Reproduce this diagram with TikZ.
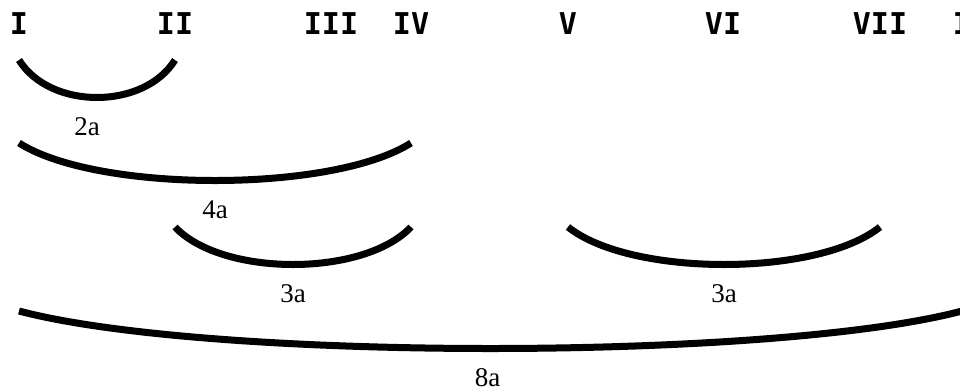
\documentclass[tikz,border=0pt]{standalone}
\usepackage{fontspec}
\setmainfont{Liberation Serif}
\newfontfamily\numfont{DejaVu Sans Mono}
\usetikzlibrary{calc}

\begin{document}
\begin{tikzpicture}[x=1pt, y=-1pt,
    numeral/.style={font=\numfont\bfseries\fontsize{30}{30}\selectfont, inner sep=0pt},
    span/.style={line width=7pt, line cap=butt},
    spanlabel/.style={font=\fontsize{27}{27}\selectfont, inner sep=0pt}]
  \useasboundingbox[fill=white] (0,0) rectangle (960,389);
  \foreach \n/\x [count=\k] in {I/19,II/175,III/331,IV/411,V/568,VI/723,VII/880,I/962}
    \node[numeral] (n\k) at (\x,24) {\n};
  \foreach \s/\e/\y/\dx/\lab in {1/2/60/-10/2a,1/4/143/0/4a,2/4/227/0/3a,5/7/227/0/3a,1/8/311/-3/8a} {
    \coordinate (s) at (n\s |- 0,\y);
    \coordinate (e) at (n\e |- 0,\y);
    \draw[span] (s) .. controls ($(s)!0.2!(e)+(0,50)$) and ($(s)!0.8!(e)+(0,50)$) .. (e)
      node[spanlabel, pos=0.5, yshift=-29pt, xshift=\dx pt] {\lab};
  }
\end{tikzpicture}
\end{document}
